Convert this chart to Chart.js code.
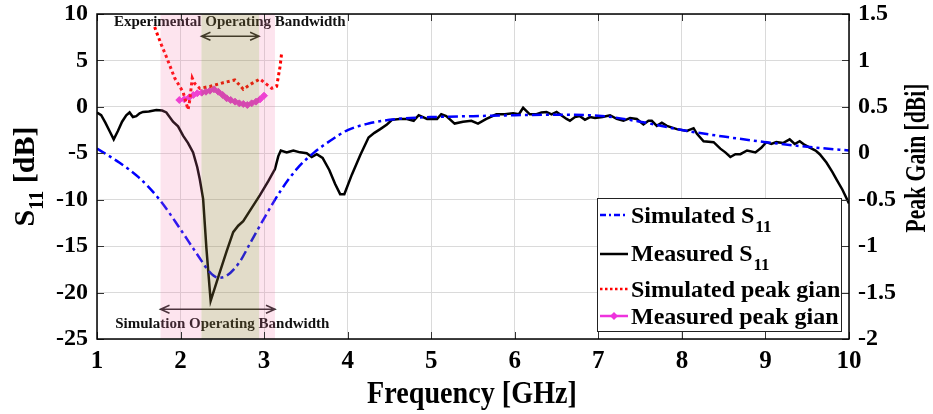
<!DOCTYPE html>
<html>
<head>
<meta charset="utf-8">
<script src="https://cdn.jsdelivr.net/npm/chart.js@4"></script>
<style>
  html, body { margin: 0; padding: 0; background: #fff; }
  canvas { display: block; }
</style>
</head>
<body>
<canvas id="chart" width="933" height="414"></canvas>
<script>
  // simulated S11 (dB)
  const simFreq = [1.0, 1.25, 1.5, 1.75, 2.0, 2.2, 2.35, 2.45, 2.55, 2.7, 2.85, 3.0, 3.2, 3.4, 3.6, 3.8, 4.0, 4.25, 4.5, 4.75, 5.0, 5.5, 6.0, 6.5, 7.0, 7.5, 8.0, 8.5, 9.0, 9.5, 10.0];
  const simS11 = [-4.5, -5.9, -7.6, -10.0, -13.2, -15.9, -17.8, -18.4, -18.2, -16.8, -14.4, -12.0, -9.0, -6.6, -4.9, -3.6, -2.5, -1.8, -1.4, -1.2, -1.1, -1.0, -0.9, -0.85, -0.95, -1.6, -2.5, -3.2, -3.8, -4.3, -4.7];

  // measured S11 (dB)
  const measFreq = [1.00, 1.05, 1.10, 1.15, 1.20, 1.25, 1.30, 1.35, 1.39, 1.43, 1.47, 1.51, 1.55, 1.62, 1.71, 1.78, 1.83, 1.91, 1.97, 2.03, 2.09, 2.15, 2.20, 2.23, 2.27, 2.31, 2.36, 2.41, 2.47, 2.55, 2.63, 2.69, 2.75, 2.85, 2.95, 3.05, 3.13, 3.17, 3.20, 3.27, 3.31, 3.35, 3.43, 3.51, 3.57, 3.63, 3.70, 3.78, 3.85, 3.91, 3.96, 4.05, 4.15, 4.25, 4.32, 4.39, 4.47, 4.53, 4.62, 4.71, 4.79, 4.85, 4.95, 5.07, 5.12, 5.18, 5.28, 5.38, 5.48, 5.56, 5.66, 5.78, 5.88, 5.98, 6.05, 6.10, 6.18, 6.26, 6.32, 6.38, 6.44, 6.50, 6.62, 6.66, 6.72, 6.78, 6.84, 6.90, 6.96, 7.05, 7.14, 7.22, 7.30, 7.38, 7.46, 7.54, 7.60, 7.64, 7.70, 7.76, 7.82, 7.94, 8.06, 8.14, 8.18, 8.26, 8.38, 8.46, 8.52, 8.58, 8.64, 8.70, 8.78, 8.88, 8.95, 9.01, 9.07, 9.13, 9.21, 9.29, 9.35, 9.41, 9.47, 9.53, 9.60, 9.65, 9.73, 9.80, 9.85, 9.92, 10.0];
  const measS11 = [-0.6, -0.9, -1.7, -2.6, -3.5, -2.6, -1.6, -0.9, -0.6, -1.1, -1.0, -0.7, -0.55, -0.5, -0.35, -0.4, -0.6, -1.6, -2.1, -3.1, -3.9, -4.9, -6.5, -7.8, -9.9, -15.3, -20.9, -19.5, -17.8, -15.6, -13.5, -12.8, -12.3, -10.9, -9.5, -8.0, -6.7, -5.3, -4.7, -4.9, -4.8, -4.7, -4.9, -5.0, -5.4, -5.1, -5.5, -6.8, -8.3, -9.4, -9.4, -7.3, -5.2, -3.3, -2.8, -2.4, -1.9, -1.4, -1.3, -1.3, -1.5, -0.9, -1.3, -1.3, -0.8, -1.0, -1.8, -1.6, -1.5, -1.8, -1.3, -0.8, -0.8, -0.7, -0.8, -0.1, -0.8, -0.8, -0.6, -0.55, -0.8, -0.55, -1.3, -1.5, -1.1, -1.0, -1.4, -1.1, -1.2, -1.1, -0.9, -1.3, -1.5, -1.2, -1.3, -1.9, -1.5, -1.5, -2.05, -1.7, -2.05, -2.4, -2.6, -2.3, -2.9, -3.7, -3.8, -4.5, -4.9, -5.4, -5.1, -5.1, -4.7, -4.9, -4.4, -3.8, -4.0, -3.8, -3.9, -3.5, -4.0, -3.7, -4.1, -4.4, -4.7, -5.1, -6.0, -7.0, -7.8, -8.9, -10.4];

  // simulated peak gain (dBi)
  const simGainFreq = [1.69, 1.71, 1.77, 1.83, 1.93, 2.03, 2.09, 2.11, 2.14, 2.17, 2.23, 2.35, 2.51, 2.65, 2.75, 2.85, 2.95, 3.09, 3.15, 3.19, 3.21];
  const simGain = [1.36, 1.31, 1.17, 1.04, 0.81, 0.66, 0.47, 0.57, 0.81, 0.75, 0.70, 0.72, 0.76, 0.79, 0.69, 0.75, 0.80, 0.70, 0.72, 0.93, 1.08];

  // measured peak gain (dBi)
  const measGainFreq = [1.985, 2.045, 2.105, 2.153, 2.20, 2.253, 2.304, 2.352, 2.40, 2.452, 2.504, 2.552, 2.60, 2.652, 2.703, 2.751, 2.799, 2.851, 2.903, 2.951, 2.999];
  const measGain = [0.574, 0.581, 0.603, 0.628, 0.646, 0.653, 0.663, 0.674, 0.689, 0.663, 0.628, 0.592, 0.574, 0.556, 0.538, 0.531, 0.520, 0.538, 0.556, 0.581, 0.620];

  // operating bands (GHz)
  const simBand = [1.76, 3.13];
  const expBand = [2.25, 2.94];

  const serif = '"Liberation Serif", "Times New Roman", serif';
  const pts = (xs, ys) => xs.map((x, i) => ({ x, y: ys[i] }));

  function arrow(ctx, x1, x2, y) {
    ctx.beginPath();
    ctx.moveTo(x1, y); ctx.lineTo(x2, y);
    ctx.moveTo(x1 + 9, y - 4); ctx.lineTo(x1, y); ctx.lineTo(x1 + 9, y + 4);
    ctx.moveTo(x2 - 9, y - 4); ctx.lineTo(x2, y); ctx.lineTo(x2 - 9, y + 4);
    ctx.stroke();
  }

  const overlay = {
    id: 'overlay',
    afterDatasetsDraw(chart) {
      const { ctx, chartArea: a, scales: { x, y } } = chart;
      ctx.save();
      ctx.beginPath(); ctx.rect(a.left, a.top, a.width, a.height); ctx.clip();

      // band labels and arrows
      ctx.fillStyle = '#111'; ctx.strokeStyle = '#222'; ctx.lineWidth = 1.5;
      ctx.font = 'bold 15px ' + serif;
      ctx.textAlign = 'center'; ctx.textBaseline = 'alphabetic';
      ctx.fillText('Experimental Operating Bandwidth', x.getPixelForValue(2.59), y.getPixelForValue(8.7));
      arrow(ctx, x.getPixelForValue(expBand[0]), x.getPixelForValue(expBand[1]), y.getPixelForValue(7.6));
      ctx.fillText('Simulation Operating Bandwidth', x.getPixelForValue(2.5), y.getPixelForValue(-23.8));
      arrow(ctx, x.getPixelForValue(simBand[0]), x.getPixelForValue(simBand[1]), y.getPixelForValue(-21.8));

      // shaded bands
      const sx0 = x.getPixelForValue(simBand[0]), sx1 = x.getPixelForValue(simBand[1]);
      const ex0 = x.getPixelForValue(expBand[0]), ex1 = x.getPixelForValue(expBand[1]);
      ctx.fillStyle = 'rgba(247,120,170,0.2)';
      ctx.fillRect(sx0, a.top, ex0 - sx0, a.height);
      ctx.fillRect(ex1, a.top, sx1 - ex1, a.height);
      ctx.fillStyle = 'rgba(150,130,60,0.28)';
      ctx.fillRect(ex0, a.top, ex1 - ex0, a.height);
      ctx.restore();

      // inner tick marks and box
      const y1 = chart.scales.y1;
      ctx.save();
      ctx.strokeStyle = '#333'; ctx.lineWidth = 1;
      ctx.beginPath();
      x.ticks.forEach(t => {
        const px = Math.round(x.getPixelForValue(t.value)) + 0.5;
        ctx.moveTo(px, a.bottom); ctx.lineTo(px, a.bottom - 7);
        ctx.moveTo(px, a.top); ctx.lineTo(px, a.top + 7);
      });
      y.ticks.forEach(t => {
        const py = Math.round(y.getPixelForValue(t.value)) + 0.5;
        ctx.moveTo(a.left, py); ctx.lineTo(a.left + 7, py);
      });
      y1.ticks.forEach(t => {
        const py = Math.round(y1.getPixelForValue(t.value)) + 0.5;
        ctx.moveTo(a.right, py); ctx.lineTo(a.right - 7, py);
      });
      ctx.stroke();
      ctx.strokeStyle = '#000'; ctx.lineWidth = 1.5;
      ctx.strokeRect(a.left, a.top, a.width, a.height);
      ctx.restore();

      // legend
      ctx.save();
      ctx.fillStyle = '#fff'; ctx.strokeStyle = '#222'; ctx.lineWidth = 1;
      ctx.fillRect(597.5, 198.5, 244, 133);
      ctx.strokeRect(597.5, 198.5, 244, 133);
      const rows = [
        { label: 'Simulated S', sub: '11', color: '#0000ff', dash: [6, 3, 2, 3], ly: 215, ty: 223 },
        { label: 'Measured S', sub: '11', color: '#000', dash: [], ly: 254, ty: 261 },
        { label: 'Simulated peak gian', color: '#ff0000', dash: [2.5, 2.5], ly: 289, ty: 297 },
        { label: 'Measured peak gian', color: '#ee33dd', dash: [], ly: 316, ty: 324, marker: true }
      ];
      rows.forEach(r => {
        ctx.strokeStyle = r.color; ctx.lineWidth = 2.5; ctx.setLineDash(r.dash);
        ctx.beginPath(); ctx.moveTo(600, r.ly); ctx.lineTo(628, r.ly); ctx.stroke();
        ctx.setLineDash([]);
        if (r.marker) {
          ctx.fillStyle = r.color;
          ctx.beginPath();
          ctx.moveTo(614, r.ly - 4); ctx.lineTo(618, r.ly); ctx.lineTo(614, r.ly + 4); ctx.lineTo(610, r.ly);
          ctx.closePath(); ctx.fill();
        }
        ctx.fillStyle = '#000'; ctx.textAlign = 'left'; ctx.textBaseline = 'alphabetic';
        ctx.font = 'bold 24px ' + serif;
        ctx.fillText(r.label, 631, r.ty);
        if (r.sub) {
          const w = ctx.measureText(r.label).width;
          ctx.font = 'bold 17px ' + serif;
          ctx.fillText(r.sub, 631 + w + 1, r.ty + 9);
        }
      });
      ctx.restore();
    },
    afterDraw(chart) {
      const { ctx, chartArea: a } = chart;
      ctx.save();
      ctx.fillStyle = '#000'; ctx.textBaseline = 'alphabetic'; ctx.textAlign = 'left';

      // left title: S11 [dB]
      ctx.save();
      ctx.translate(34, (a.top + a.bottom) / 2);
      ctx.rotate(-Math.PI / 2);
      ctx.font = 'bold 30px ' + serif;
      const wS = ctx.measureText('S').width;
      const wR = ctx.measureText(' [dB]').width;
      ctx.font = 'bold 20px ' + serif;
      const wSub = ctx.measureText('11').width;
      let sx = -(wS + wSub + wR) / 2;
      ctx.font = 'bold 30px ' + serif;
      ctx.fillText('S', sx, 0);
      ctx.font = 'bold 20px ' + serif;
      ctx.fillText('11', sx + wS, 9);
      ctx.font = 'bold 30px ' + serif;
      ctx.fillText(' [dB]', sx + wS + wSub, 0);
      ctx.restore();

      // right title
      ctx.save();
      ctx.translate(925, 158);
      ctx.rotate(-Math.PI / 2);
      ctx.scale(0.72, 1);
      ctx.font = 'bold 30px ' + serif;
      ctx.textAlign = 'center';
      ctx.fillText('Peak Gain [dBi]', 0, 0);
      ctx.restore();

      // x title
      ctx.save();
      ctx.translate(472, 403);
      ctx.scale(0.88, 1);
      ctx.font = 'bold 32px ' + serif;
      ctx.textAlign = 'center';
      ctx.fillText('Frequency [GHz]', 0, 0);
      ctx.restore();
      ctx.restore();
    }
  };

  // drop the label overhang padding so the plot box can reach the set margins
  function noPad(s) { s.paddingTop = 0; s.paddingBottom = 0; }

  new Chart(document.getElementById('chart'), {
    type: 'line',
    data: {
      datasets: [
        {
          label: 'Simulated S11', data: pts(simFreq, simS11), yAxisID: 'y',
          borderColor: '#0000ff', borderWidth: 2.5, borderDash: [10, 4, 3, 4],
          pointRadius: 0, cubicInterpolationMode: 'monotone'
        },
        {
          label: 'Measured S11', data: pts(measFreq, measS11), yAxisID: 'y',
          borderColor: '#000', borderWidth: 2.5, pointRadius: 0, tension: 0
        },
        {
          label: 'Simulated peak gian', data: pts(simGainFreq, simGain), yAxisID: 'y1',
          borderColor: '#ff0000', borderWidth: 3, borderDash: [3, 3], pointRadius: 0, tension: 0
        },
        {
          label: 'Measured peak gian', data: pts(measGainFreq, measGain), yAxisID: 'y1',
          borderColor: '#ee33dd', backgroundColor: '#ee33dd', borderWidth: 2.5,
          pointStyle: 'rectRot', pointRadius: 3.5, pointBorderWidth: 1, tension: 0
        }
      ]
    },
    options: {
      responsive: false,
      animation: false,
      layout: { padding: { top: 14, left: 0, right: 0, bottom: 0 } },
      plugins: { legend: { display: false }, tooltip: { enabled: false } },
      scales: {
        x: {
          type: 'linear', min: 1, max: 10,
          ticks: { stepSize: 1, padding: 8, color: '#000', font: { family: serif, size: 25, weight: 'bold' } },
          grid: { color: '#dadada', lineWidth: 1, drawTicks: false },
          border: { display: false },
          afterFit(s) { s.height = 75; s.paddingLeft = 0; s.paddingRight = 0; }
        },
        y: {
          type: 'linear', position: 'left', min: -25, max: 10,
          ticks: { stepSize: 5, padding: 9, color: '#000', font: { family: serif, size: 24, weight: 'bold' } },
          grid: { color: '#dadada', lineWidth: 1, drawTicks: false },
          border: { display: false },
          afterFit(s) { s.width = 97; noPad(s); }
        },
        y1: {
          type: 'linear', position: 'right', min: -2, max: 1.5,
          ticks: { stepSize: 0.5, padding: 9, color: '#000', font: { family: serif, size: 24, weight: 'bold' },
            callback: v => String(v) },
          grid: { display: false, drawTicks: false },
          border: { display: false },
          afterFit(s) { s.width = 84; noPad(s); }
        }
      }
    },
    plugins: [overlay]
  });
</script>
</body>
</html>
